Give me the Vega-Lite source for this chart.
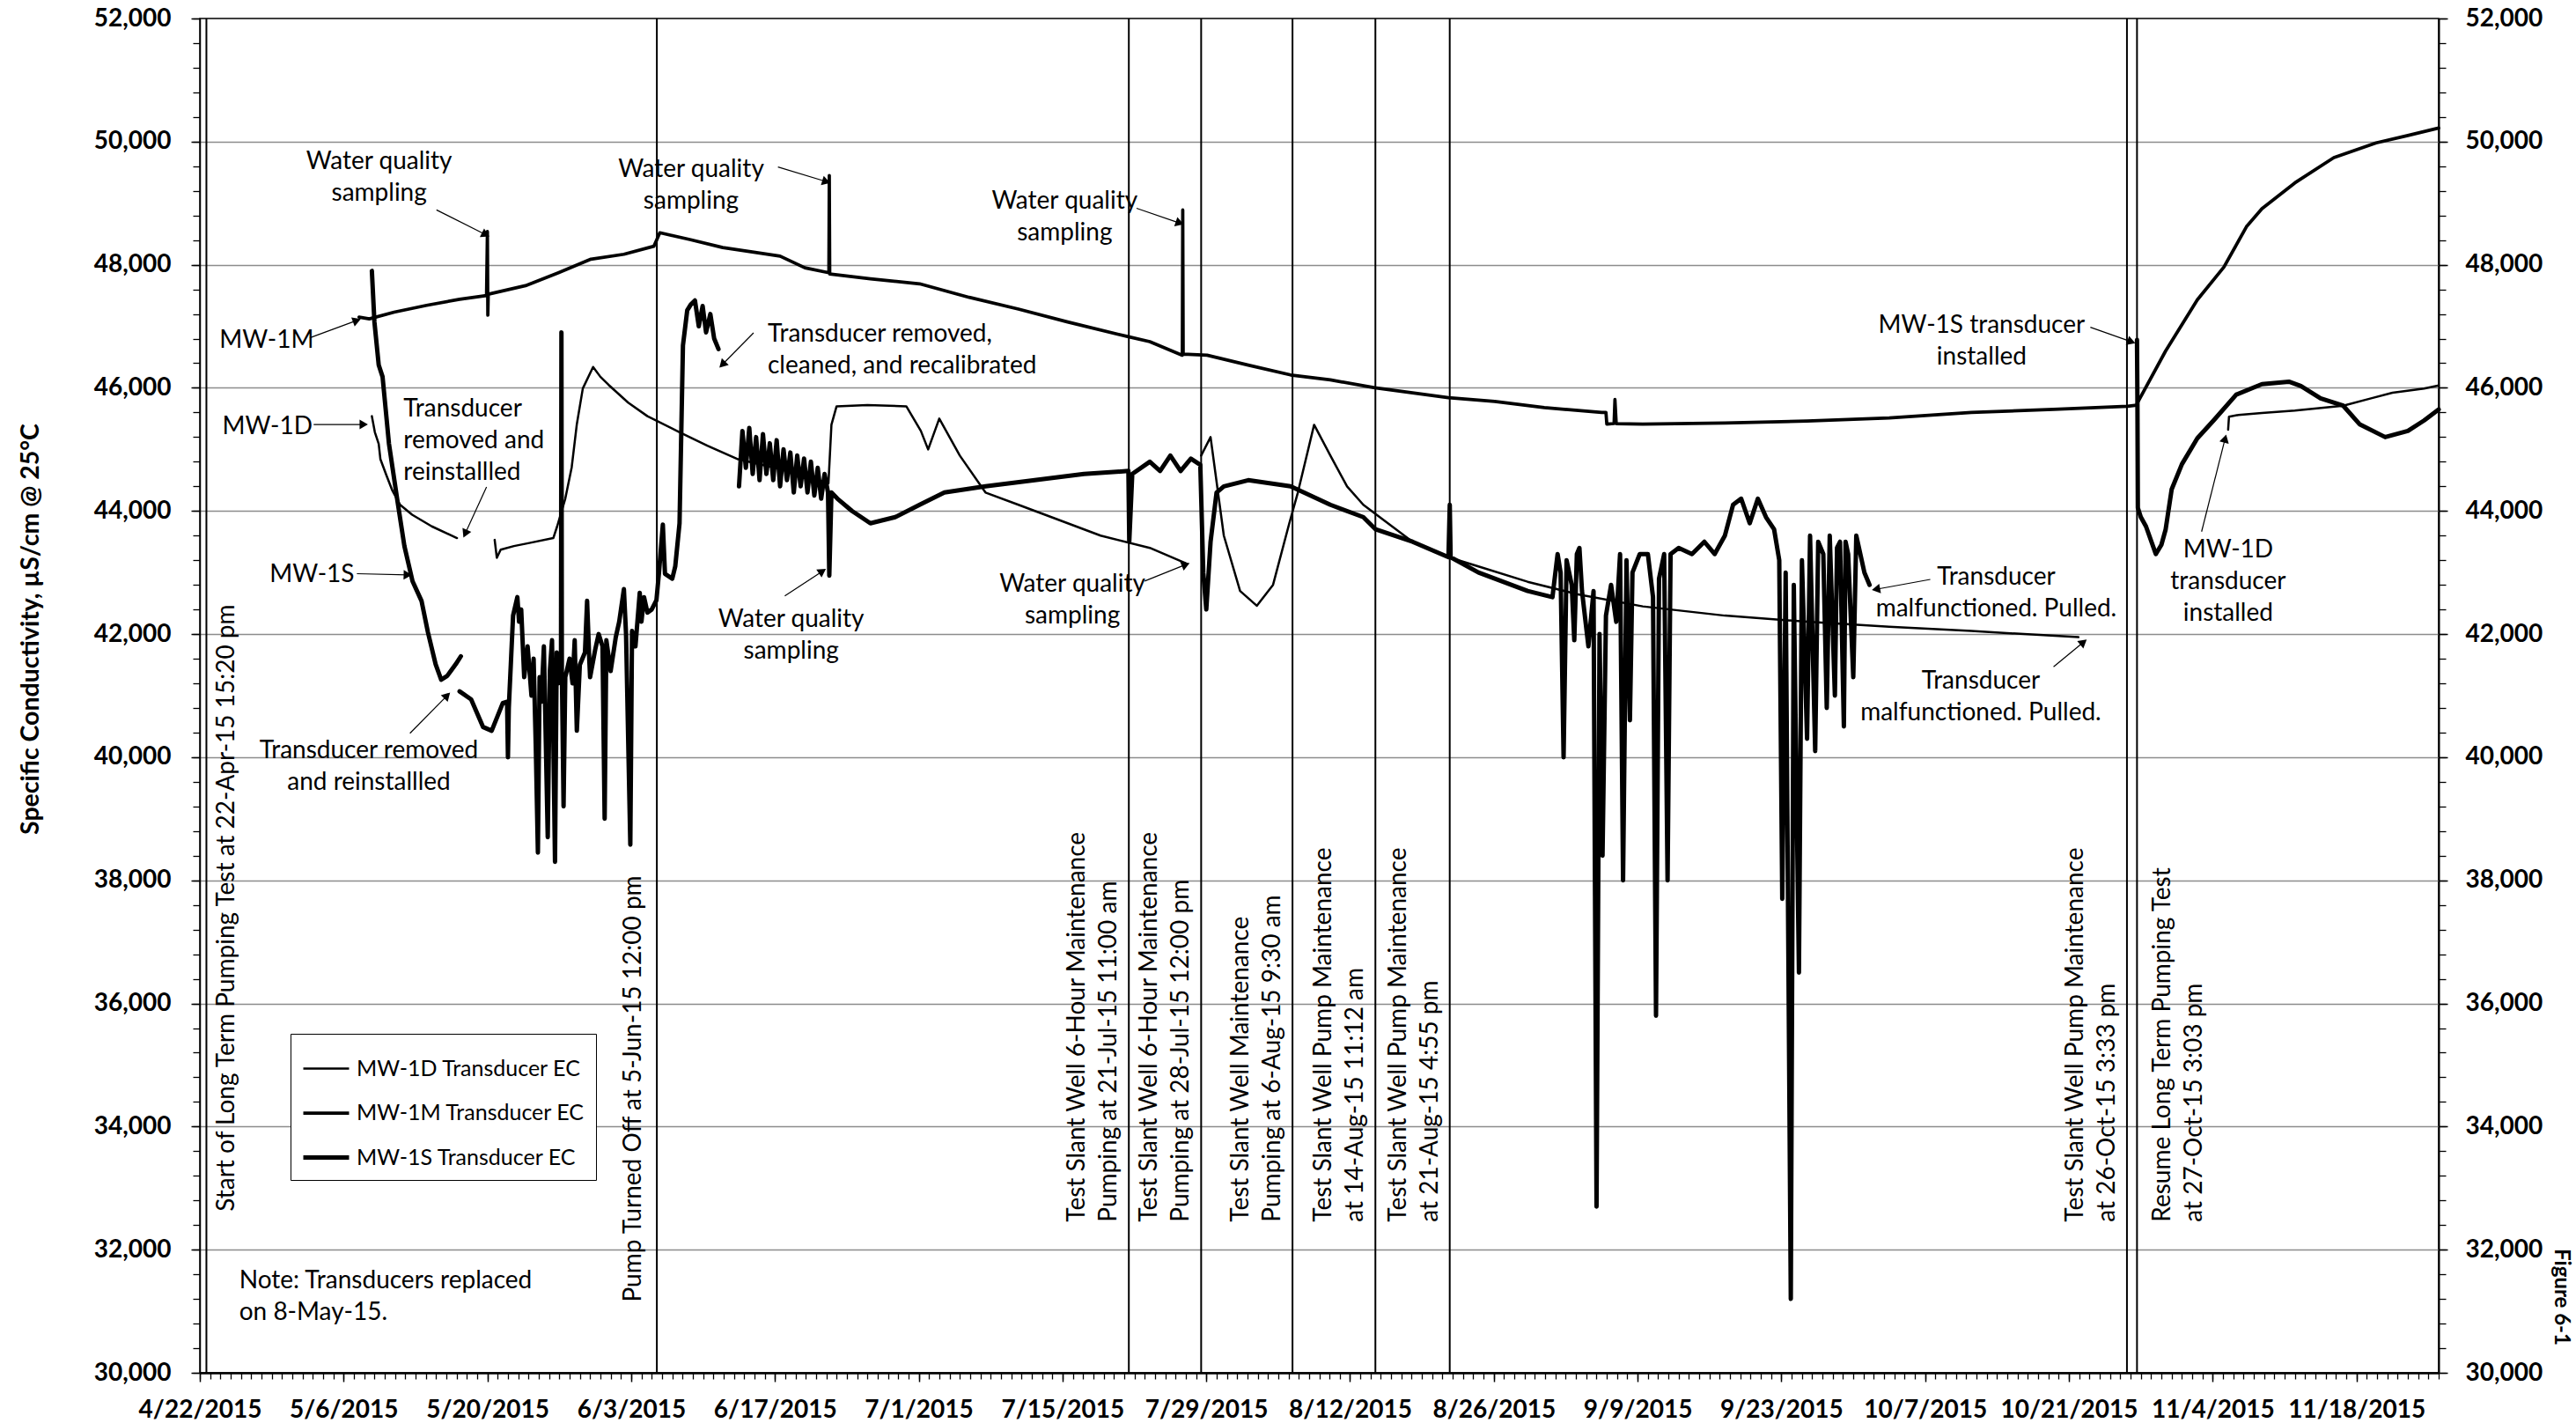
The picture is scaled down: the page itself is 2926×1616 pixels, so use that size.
{
"$schema": "https://vega.github.io/schema/vega-lite/v6.json",
"width": 2543,
"height": 1538,
"autosize": {"type": "none"},
"padding": {"left": 227, "top": 21, "right": 156, "bottom": 57},
"background": "white",
"config": {"font": "Lato", "view": {"stroke": "black", "strokeWidth": 1.5}, "text": {"font": "Lato", "color": "black"}},
"datasets": {
"ec": [
{"series":"MW-1M Transducer EC","seg":"M1","date":"2015-05-07 12:00","ec":47150},
{"series":"MW-1M Transducer EC","seg":"M1","date":"2015-05-08 12:00","ec":47120},
{"series":"MW-1M Transducer EC","seg":"M1","date":"2015-05-10 22:00","ec":47230},
{"series":"MW-1M Transducer EC","seg":"M1","date":"2015-05-14 02:00","ec":47340},
{"series":"MW-1M Transducer EC","seg":"M1","date":"2015-05-17 07:00","ec":47440},
{"series":"MW-1M Transducer EC","seg":"M1","date":"2015-05-19 22:00","ec":47500},
{"series":"MW-1M Transducer EC","seg":"M1","date":"2015-05-20 00:00","ec":48540},
{"series":"MW-1M Transducer EC","seg":"M1","date":"2015-05-20 01:00","ec":47180},
{"series":"MW-1M Transducer EC","seg":"M1","date":"2015-05-20 02:00","ec":47520},
{"series":"MW-1M Transducer EC","seg":"M1","date":"2015-05-23 17:00","ec":47660},
{"series":"MW-1M Transducer EC","seg":"M1","date":"2015-05-26 22:00","ec":47870},
{"series":"MW-1M Transducer EC","seg":"M1","date":"2015-05-30 02:00","ec":48090},
{"series":"MW-1M Transducer EC","seg":"M1","date":"2015-06-02 07:00","ec":48170},
{"series":"MW-1M Transducer EC","seg":"M1","date":"2015-06-05 05:00","ec":48300},
{"series":"MW-1M Transducer EC","seg":"M1","date":"2015-06-05 19:00","ec":48520},
{"series":"MW-1M Transducer EC","seg":"M1","date":"2015-06-08 17:00","ec":48410},
{"series":"MW-1M Transducer EC","seg":"M1","date":"2015-06-11 22:00","ec":48280},
{"series":"MW-1M Transducer EC","seg":"M1","date":"2015-06-15 02:00","ec":48200},
{"series":"MW-1M Transducer EC","seg":"M1","date":"2015-06-17 12:00","ec":48140},
{"series":"MW-1M Transducer EC","seg":"M1","date":"2015-06-19 22:00","ec":47950},
{"series":"MW-1M Transducer EC","seg":"M1","date":"2015-06-22 06:00","ec":47870},
{"series":"MW-1M Transducer EC","seg":"M1","date":"2015-06-22 07:00","ec":49450},
{"series":"MW-1M Transducer EC","seg":"M1","date":"2015-06-22 08:00","ec":47850},
{"series":"MW-1M Transducer EC","seg":"M1","date":"2015-06-26 07:00","ec":47770},
{"series":"MW-1M Transducer EC","seg":"M1","date":"2015-07-01 02:00","ec":47690},
{"series":"MW-1M Transducer EC","seg":"M1","date":"2015-07-05 22:00","ec":47470},
{"series":"MW-1M Transducer EC","seg":"M1","date":"2015-07-10 17:00","ec":47280},
{"series":"MW-1M Transducer EC","seg":"M1","date":"2015-07-15 12:00","ec":47070},
{"series":"MW-1M Transducer EC","seg":"M1","date":"2015-07-21 10:00","ec":46830},
{"series":"MW-1M Transducer EC","seg":"M1","date":"2015-07-23 12:00","ec":46750},
{"series":"MW-1M Transducer EC","seg":"M1","date":"2015-07-26 16:00","ec":46530},
{"series":"MW-1M Transducer EC","seg":"M1","date":"2015-07-26 17:00","ec":48890},
{"series":"MW-1M Transducer EC","seg":"M1","date":"2015-07-26 18:00","ec":46550},
{"series":"MW-1M Transducer EC","seg":"M1","date":"2015-07-29 02:00","ec":46530},
{"series":"MW-1M Transducer EC","seg":"M1","date":"2015-08-02 02:00","ec":46370},
{"series":"MW-1M Transducer EC","seg":"M1","date":"2015-08-06 05:00","ec":46210},
{"series":"MW-1M Transducer EC","seg":"M1","date":"2015-08-10 02:00","ec":46130},
{"series":"MW-1M Transducer EC","seg":"M1","date":"2015-08-14 10:00","ec":46000},
{"series":"MW-1M Transducer EC","seg":"M1","date":"2015-08-18 02:00","ec":45920},
{"series":"MW-1M Transducer EC","seg":"M1","date":"2015-08-21 14:00","ec":45840},
{"series":"MW-1M Transducer EC","seg":"M1","date":"2015-08-26 02:00","ec":45780},
{"series":"MW-1M Transducer EC","seg":"M1","date":"2015-08-30 22:00","ec":45680},
{"series":"MW-1M Transducer EC","seg":"M1","date":"2015-09-05 12:00","ec":45600},
{"series":"MW-1M Transducer EC","seg":"M1","date":"2015-09-05 22:00","ec":45600},
{"series":"MW-1M Transducer EC","seg":"M1","date":"2015-09-06 00:00","ec":45410},
{"series":"MW-1M Transducer EC","seg":"M1","date":"2015-09-06 17:00","ec":45420},
{"series":"MW-1M Transducer EC","seg":"M1","date":"2015-09-06 19:00","ec":45810},
{"series":"MW-1M Transducer EC","seg":"M1","date":"2015-09-06 22:00","ec":45420},
{"series":"MW-1M Transducer EC","seg":"M1","date":"2015-09-09 12:00","ec":45410},
{"series":"MW-1M Transducer EC","seg":"M1","date":"2015-09-17 12:00","ec":45430},
{"series":"MW-1M Transducer EC","seg":"M1","date":"2015-09-25 12:00","ec":45460},
{"series":"MW-1M Transducer EC","seg":"M1","date":"2015-10-03 12:00","ec":45510},
{"series":"MW-1M Transducer EC","seg":"M1","date":"2015-10-11 12:00","ec":45600},
{"series":"MW-1M Transducer EC","seg":"M1","date":"2015-10-19 12:00","ec":45650},
{"series":"MW-1M Transducer EC","seg":"M1","date":"2015-10-26 17:00","ec":45700},
{"series":"MW-1M Transducer EC","seg":"M1","date":"2015-10-27 14:00","ec":45720},
{"series":"MW-1M Transducer EC","seg":"M1","date":"2015-10-27 17:00","ec":45770},
{"series":"MW-1M Transducer EC","seg":"M1","date":"2015-10-30 10:00","ec":46600},
{"series":"MW-1M Transducer EC","seg":"M1","date":"2015-11-02 12:00","ec":47430},
{"series":"MW-1M Transducer EC","seg":"M1","date":"2015-11-05 02:00","ec":47960},
{"series":"MW-1M Transducer EC","seg":"M1","date":"2015-11-07 07:00","ec":48620},
{"series":"MW-1M Transducer EC","seg":"M1","date":"2015-11-08 19:00","ec":48910},
{"series":"MW-1M Transducer EC","seg":"M1","date":"2015-11-12 00:00","ec":49330},
{"series":"MW-1M Transducer EC","seg":"M1","date":"2015-11-15 19:00","ec":49740},
{"series":"MW-1M Transducer EC","seg":"M1","date":"2015-11-19 22:00","ec":49980},
{"series":"MW-1M Transducer EC","seg":"M1","date":"2015-11-23 00:00","ec":50100},
{"series":"MW-1M Transducer EC","seg":"M1","date":"2015-11-26 00:00","ec":50220},

{"series":"MW-1D Transducer EC","seg":"D1","date":"2015-05-08 18:00","ec":45540},
{"series":"MW-1D Transducer EC","seg":"D1","date":"2015-05-09 01:00","ec":45280},
{"series":"MW-1D Transducer EC","seg":"D1","date":"2015-05-09 10:00","ec":45090},
{"series":"MW-1D Transducer EC","seg":"D1","date":"2015-05-09 14:00","ec":44840},
{"series":"MW-1D Transducer EC","seg":"D1","date":"2015-05-10 04:00","ec":44580},
{"series":"MW-1D Transducer EC","seg":"D1","date":"2015-05-10 18:00","ec":44330},
{"series":"MW-1D Transducer EC","seg":"D1","date":"2015-05-11 12:00","ec":44100},
{"series":"MW-1D Transducer EC","seg":"D1","date":"2015-05-12 16:00","ec":43940},
{"series":"MW-1D Transducer EC","seg":"D1","date":"2015-05-14 14:00","ec":43750},
{"series":"MW-1D Transducer EC","seg":"D1","date":"2015-05-17 01:00","ec":43560},
{"series":"MW-1D Transducer EC","seg":"D2","date":"2015-05-20 17:00","ec":43530},
{"series":"MW-1D Transducer EC","seg":"D2","date":"2015-05-20 22:00","ec":43240},
{"series":"MW-1D Transducer EC","seg":"D2","date":"2015-05-21 07:00","ec":43370},
{"series":"MW-1D Transducer EC","seg":"D2","date":"2015-05-22 14:00","ec":43430},
{"series":"MW-1D Transducer EC","seg":"D2","date":"2015-05-24 02:00","ec":43480},
{"series":"MW-1D Transducer EC","seg":"D2","date":"2015-05-26 10:00","ec":43560},
{"series":"MW-1D Transducer EC","seg":"D2","date":"2015-05-26 19:00","ec":43750},
{"series":"MW-1D Transducer EC","seg":"D2","date":"2015-05-27 14:00","ec":44200},
{"series":"MW-1D Transducer EC","seg":"D2","date":"2015-05-28 05:00","ec":44710},
{"series":"MW-1D Transducer EC","seg":"D2","date":"2015-05-28 17:00","ec":45410},
{"series":"MW-1D Transducer EC","seg":"D2","date":"2015-05-29 07:00","ec":45990},
{"series":"MW-1D Transducer EC","seg":"D2","date":"2015-05-30 07:00","ec":46340},
{"series":"MW-1D Transducer EC","seg":"D2","date":"2015-05-31 00:00","ec":46180},
{"series":"MW-1D Transducer EC","seg":"D2","date":"2015-05-31 19:00","ec":46050},
{"series":"MW-1D Transducer EC","seg":"D2","date":"2015-06-02 17:00","ec":45760},
{"series":"MW-1D Transducer EC","seg":"D2","date":"2015-06-04 14:00","ec":45540},
{"series":"MW-1D Transducer EC","seg":"D2","date":"2015-06-07 17:00","ec":45280},
{"series":"MW-1D Transducer EC","seg":"D2","date":"2015-06-10 10:00","ec":45060},
{"series":"MW-1D Transducer EC","seg":"D2","date":"2015-06-13 10:00","ec":44840},
{"series":"MW-1D Transducer EC","seg":"D2","date":"2015-06-18 07:00","ec":44650},
{"series":"MW-1D Transducer EC","seg":"D2","date":"2015-06-22 05:00","ec":44450},
{"series":"MW-1D Transducer EC","seg":"D2","date":"2015-06-22 12:00","ec":45400},
{"series":"MW-1D Transducer EC","seg":"D2","date":"2015-06-23 00:00","ec":45700},
{"series":"MW-1D Transducer EC","seg":"D2","date":"2015-06-26 00:00","ec":45720},
{"series":"MW-1D Transducer EC","seg":"D2","date":"2015-06-29 19:00","ec":45700},
{"series":"MW-1D Transducer EC","seg":"D2","date":"2015-07-01 05:00","ec":45300},
{"series":"MW-1D Transducer EC","seg":"D2","date":"2015-07-01 22:00","ec":45000},
{"series":"MW-1D Transducer EC","seg":"D2","date":"2015-07-03 00:00","ec":45500},
{"series":"MW-1D Transducer EC","seg":"D2","date":"2015-07-05 00:00","ec":44900},
{"series":"MW-1D Transducer EC","seg":"D2","date":"2015-07-07 12:00","ec":44300},
{"series":"MW-1D Transducer EC","seg":"D2","date":"2015-07-10 17:00","ec":44100},
{"series":"MW-1D Transducer EC","seg":"D2","date":"2015-07-13 22:00","ec":43900},
{"series":"MW-1D Transducer EC","seg":"D2","date":"2015-07-18 17:00","ec":43600},
{"series":"MW-1D Transducer EC","seg":"D2","date":"2015-07-23 12:00","ec":43400},
{"series":"MW-1D Transducer EC","seg":"D2","date":"2015-07-27 00:00","ec":43150},
{"series":"MW-1D Transducer EC","seg":"D3","date":"2015-07-28 12:00","ec":44900},
{"series":"MW-1D Transducer EC","seg":"D3","date":"2015-07-29 10:00","ec":45200},
{"series":"MW-1D Transducer EC","seg":"D3","date":"2015-07-30 17:00","ec":43600},
{"series":"MW-1D Transducer EC","seg":"D3","date":"2015-08-01 07:00","ec":42700},
{"series":"MW-1D Transducer EC","seg":"D3","date":"2015-08-02 22:00","ec":42460},
{"series":"MW-1D Transducer EC","seg":"D3","date":"2015-08-04 12:00","ec":42800},
{"series":"MW-1D Transducer EC","seg":"D3","date":"2015-08-06 02:00","ec":43800},
{"series":"MW-1D Transducer EC","seg":"D3","date":"2015-08-06 22:00","ec":44300},
{"series":"MW-1D Transducer EC","seg":"D3","date":"2015-08-08 12:00","ec":45400},
{"series":"MW-1D Transducer EC","seg":"D3","date":"2015-08-10 02:00","ec":44900},
{"series":"MW-1D Transducer EC","seg":"D3","date":"2015-08-11 17:00","ec":44400},
{"series":"MW-1D Transducer EC","seg":"D3","date":"2015-08-13 07:00","ec":44100},
{"series":"MW-1D Transducer EC","seg":"D3","date":"2015-08-18 02:00","ec":43500},
{"series":"MW-1D Transducer EC","seg":"D3","date":"2015-08-21 14:00","ec":43250},
{"series":"MW-1D Transducer EC","seg":"D3","date":"2015-08-24 12:00","ec":43100},
{"series":"MW-1D Transducer EC","seg":"D3","date":"2015-08-29 07:00","ec":42850},
{"series":"MW-1D Transducer EC","seg":"D3","date":"2015-09-03 02:00","ec":42650},
{"series":"MW-1D Transducer EC","seg":"D3","date":"2015-09-09 12:00","ec":42450},
{"series":"MW-1D Transducer EC","seg":"D3","date":"2015-09-17 12:00","ec":42300},
{"series":"MW-1D Transducer EC","seg":"D3","date":"2015-09-25 12:00","ec":42200},
{"series":"MW-1D Transducer EC","seg":"D3","date":"2015-10-03 12:00","ec":42120},
{"series":"MW-1D Transducer EC","seg":"D3","date":"2015-10-11 12:00","ec":42050},
{"series":"MW-1D Transducer EC","seg":"D3","date":"2015-10-21 22:00","ec":41950},
{"series":"MW-1D Transducer EC","seg":"D4","date":"2015-11-05 12:00","ec":45320},
{"series":"MW-1D Transducer EC","seg":"D4","date":"2015-11-05 14:00","ec":45530},
{"series":"MW-1D Transducer EC","seg":"D4","date":"2015-11-06 12:00","ec":45560},
{"series":"MW-1D Transducer EC","seg":"D4","date":"2015-11-08 19:00","ec":45590},
{"series":"MW-1D Transducer EC","seg":"D4","date":"2015-11-12 00:00","ec":45630},
{"series":"MW-1D Transducer EC","seg":"D4","date":"2015-11-16 17:00","ec":45710},
{"series":"MW-1D Transducer EC","seg":"D4","date":"2015-11-19 10:00","ec":45830},
{"series":"MW-1D Transducer EC","seg":"D4","date":"2015-11-21 12:00","ec":45920},
{"series":"MW-1D Transducer EC","seg":"D4","date":"2015-11-24 14:00","ec":45990},
{"series":"MW-1D Transducer EC","seg":"D4","date":"2015-11-26 00:00","ec":46040},

{"series":"MW-1S Transducer EC","seg":"S1","date":"2015-05-08 18:00","ec":47900},
{"series":"MW-1S Transducer EC","seg":"S1","date":"2015-05-09 00:00","ec":47070},
{"series":"MW-1S Transducer EC","seg":"S1","date":"2015-05-09 10:00","ec":46370},
{"series":"MW-1S Transducer EC","seg":"S1","date":"2015-05-09 19:00","ec":46180},
{"series":"MW-1S Transducer EC","seg":"S1","date":"2015-05-10 10:00","ec":45090},
{"series":"MW-1S Transducer EC","seg":"S1","date":"2015-05-11 05:00","ec":44200},
{"series":"MW-1S Transducer EC","seg":"S1","date":"2015-05-11 22:00","ec":43430},
{"series":"MW-1S Transducer EC","seg":"S1","date":"2015-05-12 17:00","ec":42860},
{"series":"MW-1S Transducer EC","seg":"S1","date":"2015-05-13 14:00","ec":42540},
{"series":"MW-1S Transducer EC","seg":"S1","date":"2015-05-14 05:00","ec":42030},
{"series":"MW-1S Transducer EC","seg":"S1","date":"2015-05-14 23:00","ec":41510},
{"series":"MW-1S Transducer EC","seg":"S1","date":"2015-05-15 12:00","ec":41260},
{"series":"MW-1S Transducer EC","seg":"S1","date":"2015-05-16 02:00","ec":41320},
{"series":"MW-1S Transducer EC","seg":"S1","date":"2015-05-16 22:00","ec":41510},
{"series":"MW-1S Transducer EC","seg":"S1","date":"2015-05-17 10:00","ec":41640},
{"series":"MW-1S Transducer EC","seg":"S2","date":"2015-05-17 07:00","ec":41070},
{"series":"MW-1S Transducer EC","seg":"S2","date":"2015-05-18 10:00","ec":40940},
{"series":"MW-1S Transducer EC","seg":"S2","date":"2015-05-19 14:00","ec":40490},
{"series":"MW-1S Transducer EC","seg":"S2","date":"2015-05-20 10:00","ec":40430},
{"series":"MW-1S Transducer EC","seg":"S2","date":"2015-05-21 12:00","ec":40880},
{"series":"MW-1S Transducer EC","seg":"S2","date":"2015-05-21 22:00","ec":40900},
{"series":"MW-1S Transducer EC","seg":"S2","date":"2015-05-22 00:00","ec":40000},
{"series":"MW-1S Transducer EC","seg":"S2","date":"2015-05-22 02:00","ec":40800},
{"series":"MW-1S Transducer EC","seg":"S2","date":"2015-05-22 12:00","ec":42300},
{"series":"MW-1S Transducer EC","seg":"S2","date":"2015-05-22 22:00","ec":42600},
{"series":"MW-1S Transducer EC","seg":"S2","date":"2015-05-23 02:00","ec":42200},
{"series":"MW-1S Transducer EC","seg":"S2","date":"2015-05-23 07:00","ec":42400},
{"series":"MW-1S Transducer EC","seg":"S2","date":"2015-05-23 14:00","ec":41300},
{"series":"MW-1S Transducer EC","seg":"S2","date":"2015-05-23 22:00","ec":41800},
{"series":"MW-1S Transducer EC","seg":"S2","date":"2015-05-24 07:00","ec":41000},
{"series":"MW-1S Transducer EC","seg":"S2","date":"2015-05-24 12:00","ec":41600},
{"series":"MW-1S Transducer EC","seg":"S2","date":"2015-05-24 17:00","ec":40200},
{"series":"MW-1S Transducer EC","seg":"S2","date":"2015-05-24 22:00","ec":38450},
{"series":"MW-1S Transducer EC","seg":"S2","date":"2015-05-25 02:00","ec":41300},
{"series":"MW-1S Transducer EC","seg":"S2","date":"2015-05-25 06:00","ec":40900},
{"series":"MW-1S Transducer EC","seg":"S2","date":"2015-05-25 12:00","ec":41800},
{"series":"MW-1S Transducer EC","seg":"S2","date":"2015-05-25 21:00","ec":38700},
{"series":"MW-1S Transducer EC","seg":"S2","date":"2015-05-26 02:00","ec":41400},
{"series":"MW-1S Transducer EC","seg":"S2","date":"2015-05-26 07:00","ec":41900},
{"series":"MW-1S Transducer EC","seg":"S2","date":"2015-05-26 14:00","ec":38300},
{"series":"MW-1S Transducer EC","seg":"S2","date":"2015-05-26 18:00","ec":41700},
{"series":"MW-1S Transducer EC","seg":"S2","date":"2015-05-26 22:00","ec":41200},
{"series":"MW-1S Transducer EC","seg":"S2","date":"2015-05-27 04:00","ec":41500},
{"series":"MW-1S Transducer EC","seg":"S2","date":"2015-05-27 05:00","ec":46900},
{"series":"MW-1S Transducer EC","seg":"S2","date":"2015-05-27 06:00","ec":41400},
{"series":"MW-1S Transducer EC","seg":"S2","date":"2015-05-27 10:00","ec":39200},
{"series":"MW-1S Transducer EC","seg":"S2","date":"2015-05-27 14:00","ec":41300},
{"series":"MW-1S Transducer EC","seg":"S2","date":"2015-05-28 00:00","ec":41600},
{"series":"MW-1S Transducer EC","seg":"S2","date":"2015-05-28 07:00","ec":41200},
{"series":"MW-1S Transducer EC","seg":"S2","date":"2015-05-28 12:00","ec":41900},
{"series":"MW-1S Transducer EC","seg":"S2","date":"2015-05-28 17:00","ec":40430},
{"series":"MW-1S Transducer EC","seg":"S2","date":"2015-05-29 00:00","ec":41500},
{"series":"MW-1S Transducer EC","seg":"S2","date":"2015-05-29 12:00","ec":41700},
{"series":"MW-1S Transducer EC","seg":"S2","date":"2015-05-29 17:00","ec":42540},
{"series":"MW-1S Transducer EC","seg":"S2","date":"2015-05-29 22:00","ec":41600},
{"series":"MW-1S Transducer EC","seg":"S2","date":"2015-05-30 00:00","ec":41300},
{"series":"MW-1S Transducer EC","seg":"S2","date":"2015-05-30 12:00","ec":41750},
{"series":"MW-1S Transducer EC","seg":"S2","date":"2015-05-30 20:00","ec":42000},
{"series":"MW-1S Transducer EC","seg":"S2","date":"2015-05-31 05:00","ec":41800},
{"series":"MW-1S Transducer EC","seg":"S2","date":"2015-05-31 10:00","ec":39000},
{"series":"MW-1S Transducer EC","seg":"S2","date":"2015-05-31 14:00","ec":41900},
{"series":"MW-1S Transducer EC","seg":"S2","date":"2015-06-01 00:00","ec":41400},
{"series":"MW-1S Transducer EC","seg":"S2","date":"2015-06-01 12:00","ec":41950},
{"series":"MW-1S Transducer EC","seg":"S2","date":"2015-06-01 20:00","ec":42200},
{"series":"MW-1S Transducer EC","seg":"S2","date":"2015-06-02 07:00","ec":42730},
{"series":"MW-1S Transducer EC","seg":"S2","date":"2015-06-02 12:00","ec":42000},
{"series":"MW-1S Transducer EC","seg":"S2","date":"2015-06-02 22:00","ec":38580},
{"series":"MW-1S Transducer EC","seg":"S2","date":"2015-06-03 02:00","ec":42050},
{"series":"MW-1S Transducer EC","seg":"S2","date":"2015-06-03 10:00","ec":41800},
{"series":"MW-1S Transducer EC","seg":"S2","date":"2015-06-03 20:00","ec":42670},
{"series":"MW-1S Transducer EC","seg":"S2","date":"2015-06-04 00:00","ec":42200},
{"series":"MW-1S Transducer EC","seg":"S2","date":"2015-06-04 06:00","ec":42600},
{"series":"MW-1S Transducer EC","seg":"S2","date":"2015-06-04 14:00","ec":42350},
{"series":"MW-1S Transducer EC","seg":"S2","date":"2015-06-05 00:00","ec":42400},
{"series":"MW-1S Transducer EC","seg":"S2","date":"2015-06-05 11:00","ec":42550},
{"series":"MW-1S Transducer EC","seg":"S2","date":"2015-06-05 17:00","ec":43000},
{"series":"MW-1S Transducer EC","seg":"S2","date":"2015-06-06 02:00","ec":43780},
{"series":"MW-1S Transducer EC","seg":"S2","date":"2015-06-06 07:00","ec":42980},
{"series":"MW-1S Transducer EC","seg":"S2","date":"2015-06-07 00:00","ec":42900},
{"series":"MW-1S Transducer EC","seg":"S2","date":"2015-06-07 07:00","ec":43100},
{"series":"MW-1S Transducer EC","seg":"S2","date":"2015-06-07 17:00","ec":43800},
{"series":"MW-1S Transducer EC","seg":"S2","date":"2015-06-08 01:00","ec":46690},
{"series":"MW-1S Transducer EC","seg":"S2","date":"2015-06-08 11:00","ec":47260},
{"series":"MW-1S Transducer EC","seg":"S2","date":"2015-06-08 19:00","ec":47350},
{"series":"MW-1S Transducer EC","seg":"S2","date":"2015-06-09 05:00","ec":47420},
{"series":"MW-1S Transducer EC","seg":"S2","date":"2015-06-09 14:00","ec":47000},
{"series":"MW-1S Transducer EC","seg":"S2","date":"2015-06-09 23:00","ec":47330},
{"series":"MW-1S Transducer EC","seg":"S2","date":"2015-06-10 07:00","ec":46900},
{"series":"MW-1S Transducer EC","seg":"S2","date":"2015-06-10 17:00","ec":47200},
{"series":"MW-1S Transducer EC","seg":"S2","date":"2015-06-11 02:00","ec":46800},
{"series":"MW-1S Transducer EC","seg":"S2","date":"2015-06-11 12:00","ec":46630},
{"series":"MW-1S Transducer EC","seg":"S3","date":"2015-06-13 12:00","ec":44400},
{"series":"MW-1S Transducer EC","seg":"S3","date":"2015-06-13 20:00","ec":45300},
{"series":"MW-1S Transducer EC","seg":"S3","date":"2015-06-14 04:00","ec":44700},
{"series":"MW-1S Transducer EC","seg":"S3","date":"2015-06-14 12:00","ec":45350},
{"series":"MW-1S Transducer EC","seg":"S3","date":"2015-06-14 20:00","ec":44600},
{"series":"MW-1S Transducer EC","seg":"S3","date":"2015-06-15 04:00","ec":45200},
{"series":"MW-1S Transducer EC","seg":"S3","date":"2015-06-15 12:00","ec":44500},
{"series":"MW-1S Transducer EC","seg":"S3","date":"2015-06-15 20:00","ec":45250},
{"series":"MW-1S Transducer EC","seg":"S3","date":"2015-06-16 04:00","ec":44600},
{"series":"MW-1S Transducer EC","seg":"S3","date":"2015-06-16 12:00","ec":45100},
{"series":"MW-1S Transducer EC","seg":"S3","date":"2015-06-16 20:00","ec":44500},
{"series":"MW-1S Transducer EC","seg":"S3","date":"2015-06-17 04:00","ec":45150},
{"series":"MW-1S Transducer EC","seg":"S3","date":"2015-06-17 12:00","ec":44400},
{"series":"MW-1S Transducer EC","seg":"S3","date":"2015-06-17 20:00","ec":45000},
{"series":"MW-1S Transducer EC","seg":"S3","date":"2015-06-18 04:00","ec":44500},
{"series":"MW-1S Transducer EC","seg":"S3","date":"2015-06-18 12:00","ec":44950},
{"series":"MW-1S Transducer EC","seg":"S3","date":"2015-06-18 20:00","ec":44300},
{"series":"MW-1S Transducer EC","seg":"S3","date":"2015-06-19 04:00","ec":44900},
{"series":"MW-1S Transducer EC","seg":"S3","date":"2015-06-19 12:00","ec":44400},
{"series":"MW-1S Transducer EC","seg":"S3","date":"2015-06-19 20:00","ec":44850},
{"series":"MW-1S Transducer EC","seg":"S3","date":"2015-06-20 04:00","ec":44300},
{"series":"MW-1S Transducer EC","seg":"S3","date":"2015-06-20 12:00","ec":44800},
{"series":"MW-1S Transducer EC","seg":"S3","date":"2015-06-20 20:00","ec":44250},
{"series":"MW-1S Transducer EC","seg":"S3","date":"2015-06-21 04:00","ec":44700},
{"series":"MW-1S Transducer EC","seg":"S3","date":"2015-06-21 12:00","ec":44200},
{"series":"MW-1S Transducer EC","seg":"S3","date":"2015-06-21 20:00","ec":44600},
{"series":"MW-1S Transducer EC","seg":"S3","date":"2015-06-22 04:00","ec":44300},
{"series":"MW-1S Transducer EC","seg":"S3","date":"2015-06-22 07:00","ec":42950},
{"series":"MW-1S Transducer EC","seg":"S3","date":"2015-06-22 12:00","ec":44300},
{"series":"MW-1S Transducer EC","seg":"S3","date":"2015-06-23 02:00","ec":44200},
{"series":"MW-1S Transducer EC","seg":"S3","date":"2015-06-24 12:00","ec":44000},
{"series":"MW-1S Transducer EC","seg":"S3","date":"2015-06-26 07:00","ec":43800},
{"series":"MW-1S Transducer EC","seg":"S3","date":"2015-06-28 17:00","ec":43900},
{"series":"MW-1S Transducer EC","seg":"S3","date":"2015-07-01 02:00","ec":44100},
{"series":"MW-1S Transducer EC","seg":"S3","date":"2015-07-03 12:00","ec":44300},
{"series":"MW-1S Transducer EC","seg":"S3","date":"2015-07-07 12:00","ec":44400},
{"series":"MW-1S Transducer EC","seg":"S3","date":"2015-07-12 07:00","ec":44500},
{"series":"MW-1S Transducer EC","seg":"S3","date":"2015-07-17 02:00","ec":44600},
{"series":"MW-1S Transducer EC","seg":"S3","date":"2015-07-21 10:00","ec":44650},
{"series":"MW-1S Transducer EC","seg":"S3","date":"2015-07-21 12:00","ec":43500},
{"series":"MW-1S Transducer EC","seg":"S3","date":"2015-07-21 19:00","ec":44600},
{"series":"MW-1S Transducer EC","seg":"S3","date":"2015-07-23 12:00","ec":44800},
{"series":"MW-1S Transducer EC","seg":"S3","date":"2015-07-24 12:00","ec":44650},
{"series":"MW-1S Transducer EC","seg":"S3","date":"2015-07-25 12:00","ec":44900},
{"series":"MW-1S Transducer EC","seg":"S3","date":"2015-07-26 12:00","ec":44650},
{"series":"MW-1S Transducer EC","seg":"S3","date":"2015-07-27 12:00","ec":44850},
{"series":"MW-1S Transducer EC","seg":"S3","date":"2015-07-28 10:00","ec":44750},
{"series":"MW-1S Transducer EC","seg":"S3","date":"2015-07-28 17:00","ec":43000},
{"series":"MW-1S Transducer EC","seg":"S3","date":"2015-07-29 00:00","ec":42400},
{"series":"MW-1S Transducer EC","seg":"S3","date":"2015-07-29 10:00","ec":43500},
{"series":"MW-1S Transducer EC","seg":"S3","date":"2015-07-30 00:00","ec":44300},
{"series":"MW-1S Transducer EC","seg":"S3","date":"2015-07-30 17:00","ec":44400},
{"series":"MW-1S Transducer EC","seg":"S3","date":"2015-08-02 02:00","ec":44500},
{"series":"MW-1S Transducer EC","seg":"S3","date":"2015-08-06 05:00","ec":44400},
{"series":"MW-1S Transducer EC","seg":"S3","date":"2015-08-10 02:00","ec":44100},
{"series":"MW-1S Transducer EC","seg":"S3","date":"2015-08-13 07:00","ec":43900},
{"series":"MW-1S Transducer EC","seg":"S3","date":"2015-08-14 12:00","ec":43700},
{"series":"MW-1S Transducer EC","seg":"S3","date":"2015-08-18 02:00","ec":43500},
{"series":"MW-1S Transducer EC","seg":"S3","date":"2015-08-21 14:00","ec":43250},
{"series":"MW-1S Transducer EC","seg":"S3","date":"2015-08-21 17:00","ec":44100},
{"series":"MW-1S Transducer EC","seg":"S3","date":"2015-08-21 19:00","ec":43250},
{"series":"MW-1S Transducer EC","seg":"S3","date":"2015-08-24 12:00","ec":43000},
{"series":"MW-1S Transducer EC","seg":"S3","date":"2015-08-29 07:00","ec":42700},
{"series":"MW-1S Transducer EC","seg":"S3","date":"2015-08-31 17:00","ec":42600},
{"series":"MW-1S Transducer EC","seg":"S3","date":"2015-09-01 05:00","ec":43300},
{"series":"MW-1S Transducer EC","seg":"S3","date":"2015-09-01 12:00","ec":43000},
{"series":"MW-1S Transducer EC","seg":"S3","date":"2015-09-01 19:00","ec":40000},
{"series":"MW-1S Transducer EC","seg":"S3","date":"2015-09-02 02:00","ec":43200},
{"series":"MW-1S Transducer EC","seg":"S3","date":"2015-09-02 14:00","ec":42800},
{"series":"MW-1S Transducer EC","seg":"S3","date":"2015-09-02 20:00","ec":41900},
{"series":"MW-1S Transducer EC","seg":"S3","date":"2015-09-03 02:00","ec":43300},
{"series":"MW-1S Transducer EC","seg":"S3","date":"2015-09-03 08:00","ec":43400},
{"series":"MW-1S Transducer EC","seg":"S3","date":"2015-09-03 14:00","ec":42700},
{"series":"MW-1S Transducer EC","seg":"S3","date":"2015-09-04 05:00","ec":41800},
{"series":"MW-1S Transducer EC","seg":"S3","date":"2015-09-04 17:00","ec":42700},
{"series":"MW-1S Transducer EC","seg":"S3","date":"2015-09-05 00:00","ec":32700},
{"series":"MW-1S Transducer EC","seg":"S3","date":"2015-09-05 07:00","ec":42000},
{"series":"MW-1S Transducer EC","seg":"S3","date":"2015-09-05 14:00","ec":38400},
{"series":"MW-1S Transducer EC","seg":"S3","date":"2015-09-05 22:00","ec":42300},
{"series":"MW-1S Transducer EC","seg":"S3","date":"2015-09-06 10:00","ec":42800},
{"series":"MW-1S Transducer EC","seg":"S3","date":"2015-09-06 22:00","ec":42200},
{"series":"MW-1S Transducer EC","seg":"S3","date":"2015-09-07 07:00","ec":43300},
{"series":"MW-1S Transducer EC","seg":"S3","date":"2015-09-07 14:00","ec":38000},
{"series":"MW-1S Transducer EC","seg":"S3","date":"2015-09-07 22:00","ec":43200},
{"series":"MW-1S Transducer EC","seg":"S3","date":"2015-09-08 06:00","ec":40600},
{"series":"MW-1S Transducer EC","seg":"S3","date":"2015-09-08 12:00","ec":43000},
{"series":"MW-1S Transducer EC","seg":"S3","date":"2015-09-09 05:00","ec":43300},
{"series":"MW-1S Transducer EC","seg":"S3","date":"2015-09-10 00:00","ec":43300},
{"series":"MW-1S Transducer EC","seg":"S3","date":"2015-09-10 12:00","ec":42600},
{"series":"MW-1S Transducer EC","seg":"S3","date":"2015-09-10 19:00","ec":35800},
{"series":"MW-1S Transducer EC","seg":"S3","date":"2015-09-11 02:00","ec":42900},
{"series":"MW-1S Transducer EC","seg":"S3","date":"2015-09-11 14:00","ec":43300},
{"series":"MW-1S Transducer EC","seg":"S3","date":"2015-09-11 22:00","ec":38000},
{"series":"MW-1S Transducer EC","seg":"S3","date":"2015-09-12 05:00","ec":43300},
{"series":"MW-1S Transducer EC","seg":"S3","date":"2015-09-13 00:00","ec":43400},
{"series":"MW-1S Transducer EC","seg":"S3","date":"2015-09-14 07:00","ec":43300},
{"series":"MW-1S Transducer EC","seg":"S3","date":"2015-09-15 12:00","ec":43500},
{"series":"MW-1S Transducer EC","seg":"S3","date":"2015-09-16 12:00","ec":43300},
{"series":"MW-1S Transducer EC","seg":"S3","date":"2015-09-17 12:00","ec":43600},
{"series":"MW-1S Transducer EC","seg":"S3","date":"2015-09-18 07:00","ec":44100},
{"series":"MW-1S Transducer EC","seg":"S3","date":"2015-09-19 02:00","ec":44200},
{"series":"MW-1S Transducer EC","seg":"S3","date":"2015-09-19 22:00","ec":43800},
{"series":"MW-1S Transducer EC","seg":"S3","date":"2015-09-20 17:00","ec":44200},
{"series":"MW-1S Transducer EC","seg":"S3","date":"2015-09-21 12:00","ec":43900},
{"series":"MW-1S Transducer EC","seg":"S3","date":"2015-09-22 07:00","ec":43700},
{"series":"MW-1S Transducer EC","seg":"S3","date":"2015-09-22 19:00","ec":43200},
{"series":"MW-1S Transducer EC","seg":"S3","date":"2015-09-23 02:00","ec":37700},
{"series":"MW-1S Transducer EC","seg":"S3","date":"2015-09-23 10:00","ec":43000},
{"series":"MW-1S Transducer EC","seg":"S3","date":"2015-09-23 22:00","ec":31200},
{"series":"MW-1S Transducer EC","seg":"S3","date":"2015-09-24 05:00","ec":42800},
{"series":"MW-1S Transducer EC","seg":"S3","date":"2015-09-24 17:00","ec":36500},
{"series":"MW-1S Transducer EC","seg":"S3","date":"2015-09-25 00:00","ec":43200},
{"series":"MW-1S Transducer EC","seg":"S3","date":"2015-09-25 12:00","ec":40300},
{"series":"MW-1S Transducer EC","seg":"S3","date":"2015-09-25 19:00","ec":43600},
{"series":"MW-1S Transducer EC","seg":"S3","date":"2015-09-26 07:00","ec":40100},
{"series":"MW-1S Transducer EC","seg":"S3","date":"2015-09-26 14:00","ec":43500},
{"series":"MW-1S Transducer EC","seg":"S3","date":"2015-09-27 02:00","ec":43300},
{"series":"MW-1S Transducer EC","seg":"S3","date":"2015-09-27 10:00","ec":40800},
{"series":"MW-1S Transducer EC","seg":"S3","date":"2015-09-27 17:00","ec":43600},
{"series":"MW-1S Transducer EC","seg":"S3","date":"2015-09-28 05:00","ec":41000},
{"series":"MW-1S Transducer EC","seg":"S3","date":"2015-09-28 10:00","ec":43400},
{"series":"MW-1S Transducer EC","seg":"S3","date":"2015-09-28 17:00","ec":43500},
{"series":"MW-1S Transducer EC","seg":"S3","date":"2015-09-29 02:00","ec":40500},
{"series":"MW-1S Transducer EC","seg":"S3","date":"2015-09-29 06:00","ec":43500},
{"series":"MW-1S Transducer EC","seg":"S3","date":"2015-09-29 12:00","ec":43300},
{"series":"MW-1S Transducer EC","seg":"S3","date":"2015-09-30 00:00","ec":41300},
{"series":"MW-1S Transducer EC","seg":"S3","date":"2015-09-30 07:00","ec":43600},
{"series":"MW-1S Transducer EC","seg":"S3","date":"2015-10-01 02:00","ec":43000},
{"series":"MW-1S Transducer EC","seg":"S3","date":"2015-10-01 14:00","ec":42800},
{"series":"MW-1S Transducer EC","seg":"S4","date":"2015-10-27 15:00","ec":46780},
{"series":"MW-1S Transducer EC","seg":"S4","date":"2015-10-27 16:00","ec":45800},
{"series":"MW-1S Transducer EC","seg":"S4","date":"2015-10-27 17:00","ec":44050},
{"series":"MW-1S Transducer EC","seg":"S4","date":"2015-10-28 00:00","ec":43900},
{"series":"MW-1S Transducer EC","seg":"S4","date":"2015-10-28 12:00","ec":43750},
{"series":"MW-1S Transducer EC","seg":"S4","date":"2015-10-29 11:00","ec":43300},
{"series":"MW-1S Transducer EC","seg":"S4","date":"2015-10-30 00:00","ec":43450},
{"series":"MW-1S Transducer EC","seg":"S4","date":"2015-10-30 10:00","ec":43700},
{"series":"MW-1S Transducer EC","seg":"S4","date":"2015-10-31 00:00","ec":44350},
{"series":"MW-1S Transducer EC","seg":"S4","date":"2015-11-01 00:00","ec":44760},
{"series":"MW-1S Transducer EC","seg":"S4","date":"2015-11-02 12:00","ec":45180},
{"series":"MW-1S Transducer EC","seg":"S4","date":"2015-11-04 02:00","ec":45470},
{"series":"MW-1S Transducer EC","seg":"S4","date":"2015-11-06 07:00","ec":45890},
{"series":"MW-1S Transducer EC","seg":"S4","date":"2015-11-08 19:00","ec":46060},
{"series":"MW-1S Transducer EC","seg":"S4","date":"2015-11-11 10:00","ec":46100},
{"series":"MW-1S Transducer EC","seg":"S4","date":"2015-11-12 14:00","ec":46030},
{"series":"MW-1S Transducer EC","seg":"S4","date":"2015-11-14 12:00","ec":45830},
{"series":"MW-1S Transducer EC","seg":"S4","date":"2015-11-16 17:00","ec":45710},
{"series":"MW-1S Transducer EC","seg":"S4","date":"2015-11-18 07:00","ec":45410},
{"series":"MW-1S Transducer EC","seg":"S4","date":"2015-11-20 19:00","ec":45200},
{"series":"MW-1S Transducer EC","seg":"S4","date":"2015-11-23 00:00","ec":45300},
{"series":"MW-1S Transducer EC","seg":"S4","date":"2015-11-24 14:00","ec":45470},
{"series":"MW-1S Transducer EC","seg":"S4","date":"2015-11-26 00:00","ec":45650}
],
"notesC": [
{"date":"2015-05-09 11:00","ec":49668,"text":"Water quality\nsampling"},
{"date":"2015-06-08 20:00","ec":49534,"text":"Water quality\nsampling"},
{"date":"2015-07-15 05:00","ec":49025,"text":"Water quality\nsampling"},
{"date":"2015-04-28 12:00","ec":46764,"text":"MW-1M"},
{"date":"2015-04-28 14:00","ec":45362,"text":"MW-1D"},
{"date":"2015-05-02 22:00","ec":42962,"text":"MW-1S"},
{"date":"2015-05-08 11:00","ec":40100,"text":"Transducer removed\nand reinstallled"},
{"date":"2015-06-18 14:00","ec":42229,"text":"Water quality\nsampling"},
{"date":"2015-07-15 23:00","ec":42808,"text":"Water quality\nsampling"},
{"date":"2015-10-13 22:00","ec":42915,"text":"Transducer\nmalfunctioned. Pulled."},
{"date":"2015-10-12 10:00","ec":41226,"text":"Transducer\nmalfunctioned. Pulled."},
{"date":"2015-10-12 12:00","ec":47014,"text":"MW-1S transducer\ninstalled"},
{"date":"2015-11-05 12:00","ec":43366,"text":"MW-1D\ntransducer\ninstalled"}
],
"notesL": [
{"date":"2015-05-11 20:00","ec":45648,"text":"Transducer\nremoved  and\nreinstallled"},
{"date":"2015-06-16 07:00","ec":46858,"text":"Transducer removed,\ncleaned, and recalibrated"},
{"date":"2015-04-25 20:00","ec":31486,"text":"Note: Transducers replaced\non 8-May-15."}
],
"arrows": [
{"td":"2015-05-15 01:00","tv":48891,"hd":"2015-05-19 20:00","hv":48489},
{"td":"2015-06-17 07:00","tv":49588,"hd":"2015-06-22 00:00","hv":49350},
{"td":"2015-07-22 05:00","tv":48918,"hd":"2015-07-26 10:00","hv":48677},
{"td":"2015-05-02 17:00","tv":46813,"hd":"2015-05-07 07:00","hv":47095},
{"td":"2015-05-03 02:00","tv":45405,"hd":"2015-05-07 23:00","hv":45405},
{"td":"2015-05-07 07:00","tv":42981,"hd":"2015-05-12 06:00","hv":42962},
{"td":"2015-05-19 22:00","tv":44389,"hd":"2015-05-17 20:00","hv":43631},
{"td":"2015-05-12 11:00","tv":40388,"hd":"2015-05-16 02:00","hv":41002},
{"td":"2015-06-14 22:00","tv":46893,"hd":"2015-06-11 21:00","hv":46378},
{"td":"2015-06-17 23:00","tv":42620,"hd":"2015-06-21 15:00","hv":43022},
{"td":"2015-07-23 00:00","tv":42861,"hd":"2015-07-27 00:00","hv":43129},
{"td":"2015-10-07 12:00","tv":42888,"hd":"2015-10-02 05:00","hv":42727},
{"td":"2015-10-19 12:00","tv":41468,"hd":"2015-10-22 10:00","hv":41870},
{"td":"2015-10-23 02:00","tv":46984,"hd":"2015-10-27 02:00","hv":46748},
{"td":"2015-11-02 22:00","tv":43664,"hd":"2015-11-05 05:00","hv":45176}
]
},
"layer": [
{
"data": {"name": "ec"},
"mark": {"type": "line", "color": "black", "strokeCap": "round", "strokeJoin": "round"},
"encoding": {
"x": {"field": "date", "type": "temporal",
"scale": {"domain": [{"year": 2015, "month": 4, "date": 22}, {"year": 2015, "month": 11, "date": 26}], "nice": false},
"axis": {"orient": "bottom", "title": null, "grid": false,
"values": [{"year":2015,"month":4,"date":22},{"year":2015,"month":5,"date":6},{"year":2015,"month":5,"date":20},{"year":2015,"month":6,"date":3},{"year":2015,"month":6,"date":17},{"year":2015,"month":7,"date":1},{"year":2015,"month":7,"date":15},{"year":2015,"month":7,"date":29},{"year":2015,"month":8,"date":12},{"year":2015,"month":8,"date":26},{"year":2015,"month":9,"date":9},{"year":2015,"month":9,"date":23},{"year":2015,"month":10,"date":7},{"year":2015,"month":10,"date":21},{"year":2015,"month":11,"date":4},{"year":2015,"month":11,"date":18}],
"format": "%-m/%-d/%Y", "labelFont": "Lato", "labelFontSize": 28, "labelFontWeight": "bold", "labelColor": "black",
"tickSize": 10, "tickWidth": 1.5, "tickColor": "black", "domainColor": "black", "domainWidth": 2.5,
"labelPadding": 18, "labelFlush": false, "labelOverlap": false, "labelBound": false}},
"y": {"field": "ec", "type": "quantitative",
"scale": {"domain": [30000, 52000], "nice": false, "zero": false},
"axis": {"orient": "left", "grid": false,
"values": [30000,32000,34000,36000,38000,40000,42000,44000,46000,48000,50000,52000],
"format": ",.0f", "labelFont": "Lato", "labelFontSize": 28, "labelFontWeight": "bold", "labelColor": "black",
"tickSize": 10, "tickWidth": 1.5, "tickColor": "black", "domainColor": "black", "domainWidth": 1.5,
"labelPadding": 23, "labelFlush": false, "labelOverlap": false,
"title": "Specific Conductivity, µS/cm @ 25°C", "titleFont": "Lato", "titleFontSize": 28.5, "titleFontWeight": "bold", "titleColor": "black",
"titleAngle": 270, "titleX": -193, "titleY": 693, "titleAlign": "center", "titleBaseline": "middle"}},
"strokeWidth": {"field": "series", "type": "nominal",
"scale": {"domain": ["MW-1D Transducer EC", "MW-1M Transducer EC", "MW-1S Transducer EC"], "range": [2.5, 5, 8.5]},
"legend": {"orient": "none", "legendX": 103, "legendY": 1153, "title": null, "symbolType": "stroke", "symbolSize": 2700,
"symbolStrokeColor": "black", "labelFont": "Lato", "labelFontSize": 25, "labelColor": "black", "labelOffset": 6,
"rowPadding": 9, "padding": 12, "strokeColor": "black", "fillColor": "white", "labelLimit": 400}},
"detail": {"field": "seg", "type": "nominal"}
}
},
{
"data": {"values": [{"date":"2015-04-22 15:20"},{"date":"2015-06-05 12:00"},{"date":"2015-07-21 11:00"},{"date":"2015-07-28 12:00"},{"date":"2015-08-06 09:30"},{"date":"2015-08-14 11:12"},{"date":"2015-08-21 16:55"},{"date":"2015-10-26 15:33"},{"date":"2015-10-27 15:03"}]},
"mark": {"type": "rule", "color": "black", "strokeWidth": 2},
"encoding": {
"x": {"field": "date", "type": "temporal",
"axis": {"orient": "bottom", "title": null, "grid": false, "labels": false, "domain": false,
"tickCount": {"interval": "day", "step": 1}, "tickSize": 7, "tickWidth": 1.3, "tickColor": "black"}}
}
},
{
"data": {"values": [
{"date":"2015-07-21 11:00","label":"Test Slant Well 6-Hour Maintenance\nPumping at 21-Jul-15 11:00 am"},
{"date":"2015-07-28 12:00","label":"Test Slant Well 6-Hour Maintenance\nPumping at 28-Jul-15 12:00 pm"},
{"date":"2015-08-06 09:30","label":"Test Slant Well Maintenance\nPumping at 6-Aug-15 9:30 am"},
{"date":"2015-08-14 11:12","label":"Test Slant Well Pump Maintenance\nat 14-Aug-15 11:12 am"},
{"date":"2015-08-21 16:55","label":"Test Slant Well Pump Maintenance\nat 21-Aug-15 4:55 pm"},
{"date":"2015-10-26 15:33","label":"Test Slant Well Pump Maintenance\nat 26-Oct-15 3:33 pm"}
]},
"mark": {"type": "text", "angle": 270, "align": "left", "baseline": "middle", "dy": -58, "lineBreak": "\n", "lineHeight": 36, "fontSize": 28, "font": "Lato", "color": "black"},
"encoding": {
"x": {"field": "date", "type": "temporal", "axis": null},
"y": {"datum": 32450, "type": "quantitative", "axis": null},
"text": {"field": "label"}
}
},
{
"data": {"values": [{"date":"2015-10-27 15:03","label":"Resume Long Term Pumping Test\nat 27-Oct-15 3:03 pm"}]},
"mark": {"type": "text", "angle": 270, "align": "left", "baseline": "middle", "dy": 30, "lineBreak": "\n", "lineHeight": 36, "fontSize": 28, "font": "Lato", "color": "black"},
"encoding": {
"x": {"field": "date", "type": "temporal", "axis": null},
"y": {"datum": 32450, "type": "quantitative", "axis": null},
"text": {"field": "label"}
}
},
{
"data": {"values": [{"date":"2015-04-22 15:20","label":"Start of Long Term Pumping Test at 22-Apr-15 15:20 pm"}]},
"mark": {"type": "text", "angle": 270, "align": "left", "baseline": "middle", "dy": 24, "fontSize": 28, "font": "Lato", "color": "black"},
"encoding": {
"x": {"field": "date", "type": "temporal", "axis": null},
"y": {"datum": 32620, "type": "quantitative", "axis": null},
"text": {"field": "label"}
}
},
{
"data": {"values": [{"date":"2015-06-05 12:00","label":"Pump Turned Off at 5-Jun-15 12:00 pm"}]},
"mark": {"type": "text", "angle": 270, "align": "left", "baseline": "middle", "dy": -26, "fontSize": 28, "font": "Lato", "color": "black"},
"encoding": {
"x": {"field": "date", "type": "temporal", "axis": null},
"y": {"datum": 31150, "type": "quantitative", "axis": null},
"text": {"field": "label"}
}
},
{
"data": {"name": "notesC"},
"mark": {"type": "text", "align": "center", "baseline": "middle", "lineBreak": "\n", "lineHeight": 36, "fontSize": 28, "font": "Lato", "color": "black"},
"encoding": {
"x": {"field": "date", "type": "temporal", "axis": null},
"y": {"field": "ec", "type": "quantitative",
"axis": {"orient": "right", "grid": false, "title": null,
"values": [30000,32000,34000,36000,38000,40000,42000,44000,46000,48000,50000,52000],
"format": ",.0f", "labelFont": "Lato", "labelFontSize": 28, "labelFontWeight": "bold", "labelColor": "black",
"tickSize": 10, "tickWidth": 1.5, "tickColor": "black", "domainColor": "black", "domainWidth": 2,
"labelPadding": 20, "labelFlush": false, "labelOverlap": false}},
"text": {"field": "text"}
}
},
{
"data": {"name": "notesL"},
"mark": {"type": "text", "align": "left", "baseline": "middle", "lineBreak": "\n", "lineHeight": 36, "fontSize": 28, "font": "Lato", "color": "black"},
"encoding": {
"x": {"field": "date", "type": "temporal", "axis": null},
"y": {"field": "ec", "type": "quantitative",
"axis": {"orient": "left", "grid": false, "title": null, "labels": false, "domain": false,
"values": [30000,30400,30800,31200,31600,32000,32400,32800,33200,33600,34000,34400,34800,35200,35600,36000,36400,36800,37200,37600,38000,38400,38800,39200,39600,40000,40400,40800,41200,41600,42000,42400,42800,43200,43600,44000,44400,44800,45200,45600,46000,46400,46800,47200,47600,48000,48400,48800,49200,49600,50000,50400,50800,51200,51600,52000],
"tickSize": 8, "tickWidth": 1.3, "tickColor": "black"}},
"text": {"field": "text"}
}
},
{
"data": {"name": "arrows"},
"mark": {"type": "rule", "color": "black", "strokeWidth": 1.2},
"encoding": {
"x": {"field": "td", "type": "temporal", "axis": null},
"x2": {"field": "hd"},
"y": {"field": "tv", "type": "quantitative",
"axis": {"orient": "right", "grid": false, "title": null, "labels": false, "domain": false,
"values": [30000,30400,30800,31200,31600,32000,32400,32800,33200,33600,34000,34400,34800,35200,35600,36000,36400,36800,37200,37600,38000,38400,38800,39200,39600,40000,40400,40800,41200,41600,42000,42400,42800,43200,43600,44000,44400,44800,45200,45600,46000,46400,46800,47200,47600,48000,48400,48800,49200,49600,50000,50400,50800,51200,51600,52000],
"tickSize": 8, "tickWidth": 1.3, "tickColor": "black"}},
"y2": {"field": "hv"}
}
},
{
"data": {"name": "arrows", "format": {"parse": {"td": "date", "hd": "date"}}},
"transform": [{"calculate": "atan2((time(datum.hd) - time(datum.td)) / 86400000 * 11.67, (datum.hv - datum.tv) * 0.0699) * 180 / PI", "as": "ang"}],
"mark": {"type": "point", "shape": "triangle-up", "filled": true, "color": "black", "size": 120, "opacity": 1},
"encoding": {
"x": {"field": "hd", "type": "temporal", "axis": null},
"y": {"field": "hv", "type": "quantitative",
"axis": {"orient": "left", "title": null, "labels": false, "ticks": false, "domain": false, "grid": true,
"values": [32000,34000,36000,38000,40000,42000,44000,46000,48000,50000],
"gridColor": "#8c8c8c", "gridWidth": 1.3, "gridOpacity": 1}},
"angle": {"field": "ang", "type": "quantitative", "scale": null}
}
},
{
"data": {"values": [{"date":"2015-12-06 22:00","ec":31230,"text":"Figure 6-1"}]},
"mark": {"type": "text", "angle": 90, "align": "center", "baseline": "bottom", "fontSize": 24, "fontWeight": "bold", "font": "Lato", "color": "black"},
"encoding": {
"x": {"field": "date", "type": "temporal", "axis": null},
"y": {"field": "ec", "type": "quantitative", "axis": null},
"text": {"field": "text"}
}
}
],
"resolve": {"axis": {"x": "independent", "y": "independent"}}
}
